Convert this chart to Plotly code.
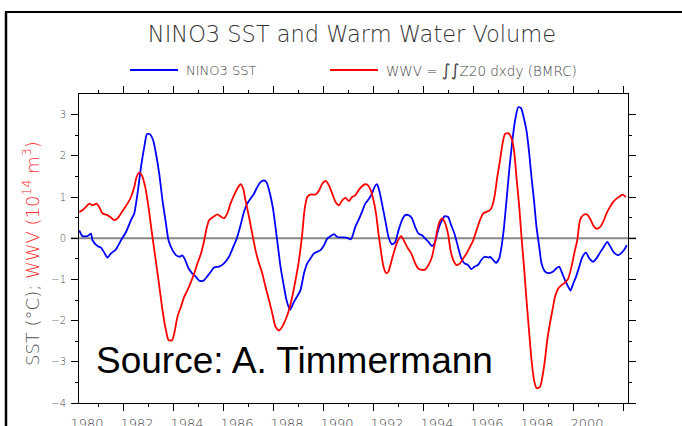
import plotly.graph_objects as go

# NINO3 sea surface temperature anomaly (deg C), decimal years
sst_year = [
    1979.24, 1979.37, 1979.57, 1979.71, 1979.77, 1979.97, 1980.11, 1980.24, 1980.37, 1980.51,
    1980.71, 1980.91, 1981.11, 1981.31, 1981.44, 1981.57, 1981.71, 1981.84, 1981.95, 1982.07,
    1982.20, 1982.31, 1982.44, 1982.57, 1982.71, 1982.81, 1982.97, 1983.11, 1983.24, 1983.37,
    1983.48, 1983.61, 1983.75, 1983.91, 1984.04, 1984.21, 1984.37, 1984.51,
    1984.63, 1984.83, 1985.03, 1985.23, 1985.43, 1985.56, 1985.69, 1985.83, 1985.96, 1986.09,
    1986.23, 1986.36, 1986.49, 1986.63, 1986.73, 1986.87, 1987.00, 1987.09, 1987.19, 1987.29,
    1987.43, 1987.53, 1987.67, 1987.80, 1987.93, 1988.09, 1988.23, 1988.36, 1988.49, 1988.63,
    1988.76, 1988.89, 1989.03, 1989.16, 1989.29, 1989.43, 1989.56, 1989.76, 1989.96, 1990.09,
    1990.15, 1990.28, 1990.41, 1990.55, 1990.68, 1990.81, 1990.95, 1991.05, 1991.15, 1991.24,
    1991.35, 1991.48, 1991.61, 1991.75, 1991.88, 1992.01, 1992.15, 1992.28, 1992.41, 1992.55,
    1992.68, 1992.81, 1992.95, 1993.08, 1993.21, 1993.35, 1993.45, 1993.59, 1993.72, 1993.85,
    1993.99, 1994.12, 1994.25, 1994.39, 1994.52, 1994.65, 1994.79, 1994.92, 1995.05, 1995.19,
    1995.32, 1995.45, 1995.61,
    1995.67, 1995.80, 1995.91, 1996.04, 1996.13, 1996.23, 1996.33, 1996.44, 1996.55, 1996.67,
    1996.80, 1996.91, 1997.00, 1997.13, 1997.24, 1997.33, 1997.43, 1997.53, 1997.64, 1997.73,
    1997.87, 1998.04, 1998.20, 1998.33, 1998.44, 1998.53, 1998.67, 1998.80, 1998.89, 1999.00,
    1999.11, 1999.24, 1999.37, 1999.51, 1999.64, 1999.80, 1999.93, 2000.07, 2000.20, 2000.36,
    2000.49, 2000.63, 2000.80, 2000.94, 2001.07, 2001.14,
]
sst = [
    0.19, 0.05, 0.05, 0.11, -0.05, -0.19, -0.23, -0.35, -0.47, -0.37,
    -0.27, -0.05, 0.15, 0.44, 0.60, 1.08, 1.73, 2.21, 2.53, 2.52,
    2.37, 2.05, 1.56, 0.92, 0.35, -0.05, -0.29, -0.41, -0.45, -0.42,
    -0.53, -0.73, -0.85, -0.94, -1.03, -1.03, -0.92, -0.81,
    -0.71, -0.69, -0.61, -0.45, -0.17, 0.03, 0.31, 0.64, 0.84, 0.96,
    1.08, 1.24, 1.36, 1.40, 1.36, 1.08, 0.68, 0.27, -0.21, -0.69,
    -1.18, -1.50, -1.74, -1.58, -1.44, -1.26, -0.85, -0.61, -0.49, -0.37,
    -0.33, -0.29, -0.17, -0.01, 0.05, 0.10, 0.03, 0.02, 0.01, -0.03,
    0.02, 0.27, 0.44, 0.64, 0.84, 0.94, 1.08, 1.24, 1.31, 1.16,
    0.84, 0.44, 0.03, -0.15, -0.09, 0.19, 0.44, 0.56, 0.56, 0.48,
    0.27, 0.11, 0.07, -0.01, -0.09, -0.19, -0.13, 0.19, 0.40, 0.53,
    0.52, 0.31, 0.11, -0.21, -0.49, -0.61, -0.65, -0.75, -0.69, -0.65,
    -0.53, -0.45, -0.47,
    -0.45, -0.53, -0.60, -0.49, -0.21, 0.27, 0.92, 1.65, 2.29, 2.85,
    3.18, 3.16, 2.98, 2.61, 2.05, 1.48, 0.92, 0.27, -0.21, -0.61,
    -0.81, -0.85, -0.81, -0.73, -0.69, -0.81, -1.02, -1.18, -1.27, -1.10,
    -0.94, -0.69, -0.45, -0.35, -0.49, -0.57, -0.49, -0.35, -0.23, -0.09,
    -0.21, -0.35, -0.41, -0.35, -0.25, -0.17,
]

# Warm water volume anomaly (10^14 m^3), decimal years
wwv_year = [
    1979.24, 1979.37, 1979.51, 1979.64, 1979.77, 1979.93, 1980.04, 1980.17, 1980.37, 1980.51,
    1980.64, 1980.77, 1980.91, 1981.04, 1981.17, 1981.31, 1981.44, 1981.53, 1981.64, 1981.75,
    1981.88, 1982.01, 1982.15, 1982.28, 1982.41, 1982.55, 1982.68, 1982.81, 1982.95, 1983.04,
    1983.17, 1983.31, 1983.44, 1983.57, 1983.71, 1983.84, 1983.97, 1984.11, 1984.24, 1984.33,
    1984.44,
    1984.63, 1984.76, 1984.89, 1985.03, 1985.16, 1985.29, 1985.43, 1985.56, 1985.69, 1985.80,
    1985.89, 1986.03, 1986.16, 1986.29, 1986.43, 1986.56, 1986.69, 1986.83, 1986.96, 1987.09,
    1987.23, 1987.36, 1987.49, 1987.63, 1987.76, 1987.89, 1988.03, 1988.16, 1988.25, 1988.36,
    1988.49, 1988.69, 1988.83, 1988.96, 1989.09, 1989.23, 1989.36, 1989.49, 1989.63, 1989.76,
    1989.89, 1990.03,
    1990.15, 1990.28, 1990.41, 1990.55, 1990.68, 1990.79, 1990.90, 1991.01, 1991.11, 1991.21,
    1991.32, 1991.41, 1991.52, 1991.61, 1991.72, 1991.85, 1991.99, 1992.12, 1992.25, 1992.39,
    1992.52, 1992.65, 1992.79, 1992.95, 1993.08, 1993.21, 1993.35, 1993.45, 1993.56, 1993.65,
    1993.75, 1993.85, 1993.99, 1994.09, 1994.20, 1994.33, 1994.47, 1994.60, 1994.73, 1994.87,
    1995.00, 1995.13, 1995.27, 1995.40, 1995.53,
    1995.67, 1995.77, 1995.87, 1995.96, 1996.07, 1996.17, 1996.27, 1996.40, 1996.54, 1996.63,
    1996.73, 1996.84, 1996.93, 1997.03, 1997.13, 1997.24, 1997.33, 1997.43, 1997.53, 1997.67,
    1997.77, 1997.87, 1997.96, 1998.07, 1998.17, 1998.27, 1998.40, 1998.53, 1998.67, 1998.80,
    1998.93, 1999.07, 1999.16, 1999.27, 1999.40, 1999.54, 1999.67, 1999.80, 1999.93, 2000.07,
    2000.20, 2000.33, 2000.47, 2000.60, 2000.73, 2000.87, 2000.97, 2001.11,
]
wwv = [
    0.64, 0.68, 0.76, 0.84, 0.80, 0.84, 0.76, 0.60, 0.56, 0.50,
    0.44, 0.48, 0.60, 0.72, 0.84, 1.00, 1.24, 1.48, 1.59, 1.52,
    1.24, 0.76, 0.11, -0.45, -1.02, -1.66, -2.15, -2.47, -2.48, -2.31,
    -1.90, -1.66, -1.42, -1.26, -1.06, -0.85, -0.61, -0.37, -0.05, 0.23,
    0.44,
    0.53, 0.58, 0.53, 0.48, 0.60, 0.84, 1.04, 1.20, 1.31, 1.20,
    0.92, 0.52, 0.11, -0.29, -0.61, -0.85, -1.18, -1.50, -1.82, -2.15,
    -2.24, -2.15, -1.98, -1.74, -1.42, -1.02, -0.53, 0.11, 0.68, 1.00,
    1.06, 1.06, 1.16, 1.32, 1.39, 1.28, 1.08, 0.88, 0.80, 0.92,
    0.98, 0.90,
    1.00, 1.04, 1.16, 1.26, 1.31, 1.28, 1.16, 0.92, 0.60, 0.11,
    -0.37, -0.69, -0.85, -0.81, -0.57, -0.29, -0.05, 0.05, -0.09, -0.25,
    -0.37, -0.57, -0.73, -0.77, -0.76, -0.65, -0.45, -0.17, 0.19, 0.40,
    0.48, 0.40, 0.11, -0.29, -0.53, -0.65, -0.61, -0.49, -0.37, -0.21,
    -0.05, 0.19, 0.44, 0.60, 0.64,
    0.68, 0.80, 1.08, 1.48, 1.89, 2.29, 2.53, 2.55, 2.41, 2.13,
    1.48, 0.76, 0.03, -0.69, -1.50, -2.31, -2.95, -3.44, -3.64, -3.61,
    -3.35, -2.95, -2.47, -2.06, -1.74, -1.42, -1.22, -1.14, -1.08, -0.98,
    -0.69, -0.29, -0.05, 0.44, 0.56, 0.58, 0.48, 0.31, 0.23, 0.27,
    0.40, 0.60, 0.76, 0.88, 0.96, 1.02, 1.06, 1.00,
]

label_years = list(range(1980, 2001, 2))
y_major = list(range(-4, 4))
y_minor = [v + 0.5 for v in range(-4, 3)]
x_range = [1979.23, 2001.19]
y_range = [-4, 3.5]

# page geometry (px)
W, H = 682, 426
ML, MR, MT, MB = 79, 54, 94, 23
PL, PR, PT, PB = ML, W - MR, MT, H - MB


def px_x(px):
    return (px - PL) / (PR - PL)


def px_y(py):
    return (PB - py) / (PB - PT)


FONT = "DejaVu Sans"
GREY_TXT = "#444444"

fig = go.Figure()
fig.add_trace(go.Scatter(
    x=sst_year, y=sst, mode="lines", name="NINO3 SST",
    line=dict(color="#0000ff", width=1.8, shape="spline", smoothing=0.6),
    showlegend=False,
))
fig.add_trace(go.Scatter(
    x=wwv_year, y=wwv, mode="lines", name="WWV",
    line=dict(color="#ff0000", width=1.8, shape="spline", smoothing=0.6),
    showlegend=False,
))
# empty trace that carries the year-label axis
fig.add_trace(go.Scatter(x=[], y=[], xaxis="x2", showlegend=False, hoverinfo="skip"))

shapes = [
    # zero reference line
    dict(type="line", xref="paper", yref="y", x0=px_x(71), x1=px_x(636), y0=0, y1=0,
         line=dict(color="#888888", width=2), layer="below"),
    # outer frame
    dict(type="line", xref="paper", yref="paper", x0=px_x(6), x1=px_x(6),
         y0=px_y(12), y1=px_y(440), line=dict(color="#000000", width=2.5)),
    dict(type="line", xref="paper", yref="paper", x0=px_x(5), x1=px_x(700),
         y0=px_y(12), y1=px_y(12), line=dict(color="#000000", width=2)),
    # legend samples
    dict(type="line", xref="paper", yref="paper", x0=px_x(130), x1=px_x(178),
         y0=px_y(70), y1=px_y(70), line=dict(color="#0000ff", width=2)),
    dict(type="line", xref="paper", yref="paper", x0=px_x(330), x1=px_x(378),
         y0=px_y(70), y1=px_y(70), line=dict(color="#ff0000", width=2)),
]

annotations = [
    dict(text="NINO3 SST", xref="paper", yref="paper", x=px_x(184), y=px_y(70),
         xanchor="left", yanchor="middle", showarrow=False,
         font=dict(family=FONT, size=13, color=GREY_TXT, weight=200)),
    dict(text="WWV = <span style='font-size:17px'><i>∫∫</i></span>Z20 dxdy (BMRC)",
         xref="paper", yref="paper", x=px_x(384), y=px_y(70),
         xanchor="left", yanchor="middle", showarrow=False,
         font=dict(family=FONT, size=13.5, color=GREY_TXT, weight=200)),
    dict(text="SST (°C); <span style='color:#ff3030'>WWV (10<sup>14</sup> m<sup>3</sup>)</span>",
         xref="paper", yref="paper", x=px_x(31), y=px_y(254), textangle=-90,
         xanchor="center", yanchor="middle", showarrow=False,
         font=dict(family=FONT, size=18, color="#555555", weight=200)),
    dict(text="Source: A. Timmermann", xref="paper", yref="paper", x=px_x(94), y=px_y(360),
         xanchor="left", yanchor="middle", showarrow=False,
         font=dict(family="Liberation Sans, Arial", size=37, color="#000000")),
]

fig.update_layout(
    width=W, height=H,
    margin=dict(l=ML, r=MR, t=MT, b=MB, autoexpand=False),
    paper_bgcolor="white", plot_bgcolor="rgba(0,0,0,0)",
    title=dict(text="NINO3 SST and Warm Water Volume", x=352 / W, xref="container",
               xanchor="center", y=1 - 34 / H, yref="container", yanchor="middle",
               font=dict(family=FONT, size=22.5, color="#333333", weight=200)),
    xaxis=dict(
        range=x_range, showline=True, linecolor="#000000", linewidth=1, mirror="ticks",
        ticks="outside", tickmode="array", tickvals=list(range(1981, 2002, 2)),
        ticklen=7, tickwidth=1, tickcolor="#000000", showticklabels=False,
        showgrid=False, zeroline=False,
        minor=dict(tickmode="array", tickvals=list(range(1980, 2001, 2)), ticks="outside",
                   ticklen=3, tickwidth=1, tickcolor="#000000", showgrid=False),
    ),
    xaxis2=dict(
        range=x_range, overlaying="x", anchor="y", side="bottom",
        tickmode="array", tickvals=[yr - 0.45 for yr in label_years],
        ticktext=[str(yr) for yr in label_years], ticks="", showline=False,
        showgrid=False, zeroline=False, ticklabelstandoff=11,
        tickfont=dict(family=FONT, size=13, color=GREY_TXT, weight=200),
    ),
    yaxis=dict(
        range=y_range, showline=True, linecolor="#000000", linewidth=1, mirror="ticks",
        ticks="outside", tickmode="array", tickvals=y_major, ticklen=7, tickwidth=1,
        tickcolor="#000000", showgrid=False, zeroline=False, ticklabelstandoff=3,
        tickfont=dict(family=FONT, size=10, color=GREY_TXT, weight=200),
        minor=dict(tickmode="array", tickvals=y_minor, ticks="outside", ticklen=3,
                   tickwidth=1, tickcolor="#000000", showgrid=False),
    ),
    shapes=shapes,
    annotations=annotations,
)

fig.write_html("out.html")
